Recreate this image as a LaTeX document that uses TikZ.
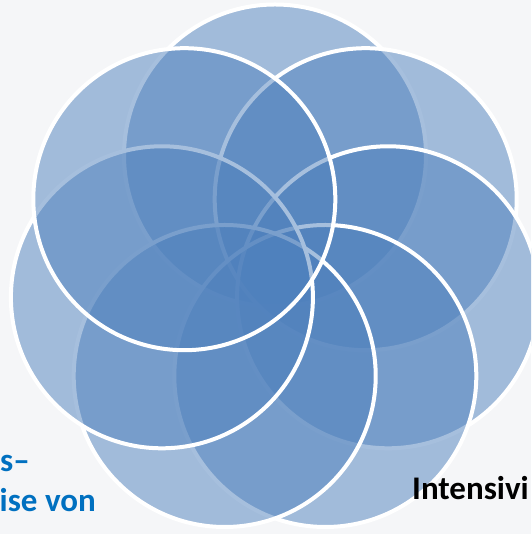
\documentclass[tikz,border=0pt]{standalone}
\usepackage{fontspec}
\usepackage{xcolor}
\usepackage{tikz}
\newfontfamily\labelfont{Carlito}
\definecolor{petalblue}{HTML}{4F81BD}
\definecolor{textblue}{HTML}{0070C0}
\definecolor{paper}{HTML}{F5F6F8}

\begin{document}
\begin{tikzpicture}[x=1pt, y=1pt,
    petal/.style={circle, draw=white, line width=4pt, fill=petalblue, fill opacity=0.5, draw opacity=1, minimum size=302pt, inner sep=0pt},
    caption/.style={anchor=base west, inner sep=0pt, font=\labelfont\bfseries\fontsize{33}{40}\selectfont}]
        \useasboundingbox (0,0) rectangle (531,534);
        \clip (0,0) rectangle (531,534);
        \fill[paper] (0,0) rectangle (531,534);

        % Define circles, top first, then clockwise
        \node (top) [petal] at (275,378.5) {};
        \node (upright) [petal] at (365.7,334.8) {};
        \node (midright) [petal] at (388.1,236.7) {};
        \node (lowright) [petal] at (325.3,158.0) {};
        \node (lowleft) [petal] at (224.7,158.0) {};
        \node (midleft) [petal] at (161.9,236.7) {};
        \node (upleft) [petal] at (184.3,334.8) {};

        % Add labels
        \node (leftupper) [caption, text=textblue] at (0,62) {s–};
        \node (leftlower) [caption, text=textblue] at (-0.5,22) {ise von};
        \node (rightlabel) [caption, text=black] at (412,34) {Intensivi};
    \end{tikzpicture}
\end{document}
